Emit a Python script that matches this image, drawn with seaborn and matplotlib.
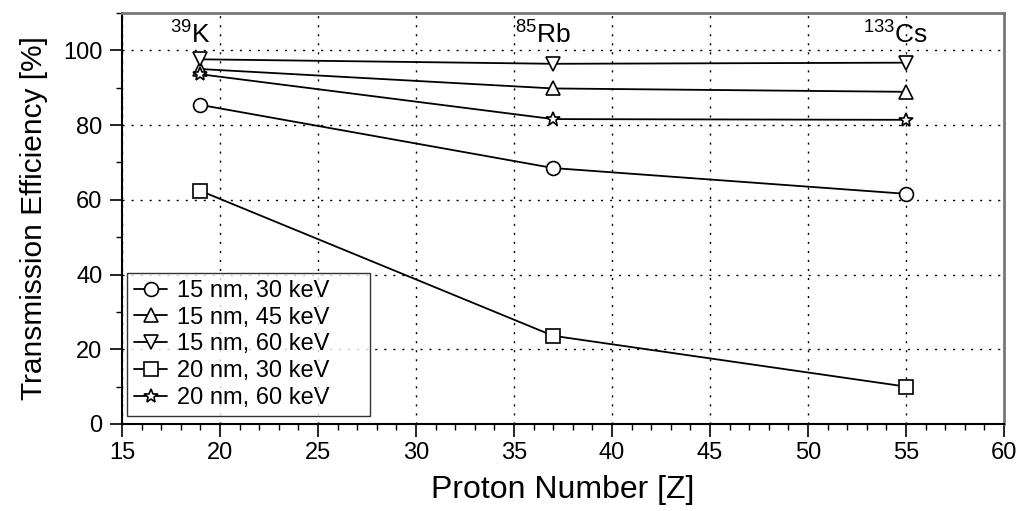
import matplotlib
matplotlib.use("Agg")
import matplotlib.pyplot as plt
import matplotlib.transforms as mtransforms
import seaborn as sns
import pandas as pd

# Proton numbers of the measured isotopes
proton_number = [19, 37, 55]
isotopes = [r"$^{39}$K", r"$^{85}$Rb", r"$^{133}$Cs"]

# Transmission efficiencies [%] per foil thickness / beam energy
eff_15nm_30keV = [85.4, 68.5, 61.6]
eff_15nm_45keV = [95.0, 89.8, 88.9]
eff_15nm_60keV = [97.6, 96.4, 96.7]
eff_20nm_30keV = [62.4, 23.6, 10.0]
eff_20nm_60keV = [93.6, 81.6, 81.4]

series_labels = ["15 nm, 30 keV", "15 nm, 45 keV", "15 nm, 60 keV",
                 "20 nm, 30 keV", "20 nm, 60 keV"]
series_values = [eff_15nm_30keV, eff_15nm_45keV, eff_15nm_60keV,
                 eff_20nm_30keV, eff_20nm_60keV]
series_markers = ["o", "^", "v", "s", "*"]

rows = []
for lab, vals in zip(series_labels, series_values):
    for z, v in zip(proton_number, vals):
        rows.append({"Z": z, "eff": v, "series": lab})
df = pd.DataFrame(rows)

sns.set_theme(style="ticks")
plt.rcParams["font.family"] = ["Liberation Sans", "DejaVu Sans"]
plt.rcParams["mathtext.fontset"] = "custom"
plt.rcParams["mathtext.rm"] = "Liberation Sans"
plt.rcParams["text.color"] = "black"
plt.rcParams["axes.labelcolor"] = "black"
plt.rcParams["xtick.color"] = "black"
plt.rcParams["ytick.color"] = "black"

fig = plt.figure(figsize=(10.2, 5.11), dpi=100)
ax = fig.add_axes([0.1196, 0.1703, 0.8647, 0.8043])

sns.lineplot(data=df, x="Z", y="eff", hue="series", style="series",
             hue_order=series_labels, style_order=series_labels,
             palette=["black"] * 5, markers=dict(zip(series_labels, series_markers)),
             dashes=False, legend=False, ax=ax, linewidth=1.3,
             markersize=10, markeredgewidth=1.2)

for line in ax.lines:
    line.set_markerfacecolor("white")
    line.set_markeredgecolor("black")
    line.set_zorder(3)

ax.set_xlim(15, 60)
ax.set_ylim(0, 110)
ax.set_xticks(range(15, 61, 5))
ax.set_xticks(range(15, 61, 1), minor=True)
ax.set_yticks(range(0, 101, 20))
ax.set_yticks(range(10, 111, 20), minor=True)
ax.tick_params(axis="both", which="both", direction="out", labelsize=17,
               colors="black", labelcolor="black")
ax.tick_params(axis="both", which="major", length=9, width=1.2)
ax.tick_params(axis="x", which="major", pad=4)
ax.tick_params(axis="y", which="major", pad=5)
ax.tick_params(axis="both", which="minor", length=4, width=1.0)
ax.grid(True, which="major", linestyle=(0, (1.5, 5)), color="black",
        linewidth=1.0)

for side in ["left", "bottom"]:
    ax.spines[side].set_color("black")
    ax.spines[side].set_linewidth(1.5)
for side in ["top", "right"]:
    ax.spines[side].set_color("#777777")
    ax.spines[side].set_linewidth(2.0)

ax.set_xlabel("Proton Number [Z]", fontsize=23, labelpad=8, color="black")
ax.set_ylabel("Transmission Efficiency [%]", fontsize=21.5, labelpad=11,
              color="black")

shift = mtransforms.offset_copy(ax.transData, fig=fig, x=-10, y=0, units="dots")
for z, name in zip(proton_number, isotopes):
    ax.text(z, 104.5, name, fontsize=19, ha="center", va="center",
            color="black", transform=shift)

leg = ax.legend(handles=ax.lines[:5], labels=series_labels, loc="lower left",
                bbox_to_anchor=(0.0057, 0.0195, 0.2755, 0.35), mode="expand",
                fontsize=17, frameon=True, fancybox=False, edgecolor="black",
                handlelength=1.4, handletextpad=0.4, labelspacing=0.2,
                borderpad=0.3, borderaxespad=0.0, labelcolor="black")
leg.get_frame().set_linewidth(1.0)

fig.savefig("out.png", dpi=100)
